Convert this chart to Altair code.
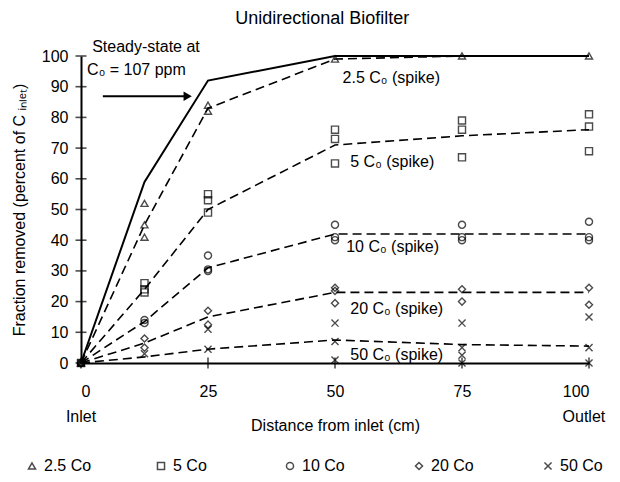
import altair as alt
import pandas as pd

FONT = "Liberation Sans"

dist = [0, 12.5, 25, 50, 75, 100]
series = ["2.5 Co", "5 Co", "10 Co", "20 Co", "50 Co"]
shapes = ["triangle-up", "square", "circle", "diamond", "M-1,-1L1,1M-1,1L1,-1"]

# measured points
tri_x = [0, 12.5, 12.5, 12.5, 25, 25, 50, 75, 100]
tri_y = [0, 52, 45, 41, 84, 82, 99, 100, 100]
sq_x = [0, 12.5, 12.5, 12.5, 25, 25, 25, 50, 50, 50, 75, 75, 75, 100, 100, 100]
sq_y = [0, 26, 24, 23, 55, 53, 49, 76, 73, 65, 79, 76, 67, 81, 77, 69]
ci_x = [0, 12.5, 12.5, 25, 25, 25, 50, 50, 50, 75, 75, 75, 100, 100, 100]
ci_y = [0, 14, 13, 35, 30.5, 30, 45, 41, 40, 45, 41, 40, 46, 41, 40]
di_x = [0, 12.5, 12.5, 25, 25, 50, 50, 50, 75, 75, 100, 100]
di_y = [0, 8, 5, 17, 12.5, 24.5, 23.5, 19.5, 24, 20, 24.5, 19]
xx_x = [0, 12.5, 25, 25, 50, 50, 50, 75, 75, 75, 75, 100, 100, 100]
xx_y = [0, 3, 11, 4.5, 13, 7, 1, 13, 5, 2.5, 0, 15, 5, 0]

# mean (dashed) lines and steady-state (solid) line
mean_tri = [0, 45, 83, 99, 100, 100]
mean_sq = [0, 24, 50, 71, 74, 76]
mean_ci = [0, 13.5, 31, 42, 42, 42]
mean_di = [0, 6.5, 15, 23, 23, 23]
mean_xx = [0, 2, 4.5, 7.5, 6, 5.5]
steady = [0, 59, 92, 100, 100, 100]

y_ticks = list(range(0, 101, 10))
x_ticks = [0, 25, 50, 75, 100]
end_labels = ["Inlet", "Outlet"]
end_x = [0, 99]

title_text = ["Unidirectional  Biofilter"]
title_x = [47.5]
title_y = [112]

labels_txt = ["2.5 C\u2080 (spike)", "5 C\u2080 (spike)", "10 C\u2080 (spike)",
              "20 C\u2080 (spike)", "50 C\u2080 (spike)",
              "Steady-state at", "C\u2080 = 107 ppm"]
labels_x = [51.5, 53, 52.2, 53, 53, 2.2, 1.2]
labels_y = [92.7, 65.5, 37.8, 17.7, 2.5, 103, 95.6]

arrow_x = [4.3]
arrow_x2 = [21]
arrow_y = [86.9]

pts = []
for name, xs_, ys_ in zip(series, [tri_x, sq_x, ci_x, di_x, xx_x],
                          [tri_y, sq_y, ci_y, di_y, xx_y]):
    for a, b in zip(xs_, ys_):
        pts.append({"series": name, "x": a, "y": b})
pts = pd.DataFrame(pts)

means = []
for name, ys_ in zip(series, [mean_tri, mean_sq, mean_ci, mean_di, mean_xx]):
    for a, b in zip(dist, ys_):
        means.append({"series": name, "x": a, "y": b})
means = pd.DataFrame(means)

steady_df = pd.DataFrame({"x": dist, "y": steady})
ann = pd.DataFrame({"x": labels_x, "y": labels_y, "t": labels_txt})
ttl = pd.DataFrame({"x": title_x, "y": title_y, "t": title_text})
arrow = pd.DataFrame({"x": arrow_x, "x2": arrow_x2, "y": arrow_y})
head = pd.DataFrame({"x": arrow_x2, "y": arrow_y})
ends = pd.DataFrame({"x": end_x, "t": end_labels})
yt_df = pd.DataFrame({"y": y_ticks, "x": [0] * len(y_ticks)})
xt_df = pd.DataFrame({"x": x_ticks, "y": [0] * len(x_ticks)})

xs = alt.Scale(domain=[0, 100], nice=False, zero=False)
ys = alt.Scale(domain=[0, 100], nice=False, zero=False)

x_axis = alt.Axis(
    values=x_ticks, ticks=False, grid=False, domainColor="black", domainWidth=2,
    labelFont=FONT, labelFontSize=16, labelColor="black", labelPadding=20,
    labelBaseline="top",
    title="Distance from inlet (cm)", titleFont=FONT, titleFontSize=16,
    titleFontWeight="normal", titleColor="black", titleY=54, titleBaseline="top",
)
y_axis = alt.Axis(
    values=y_ticks, ticks=False, grid=False, domainColor="black", domainWidth=2,
    labelFont=FONT, labelFontSize=16, labelColor="black", labelPadding=13,
    title="Fraction removed (percent of C \u1d62\u2099\u2097\u2091\u209c)",
    titleFont=FONT, titleFontSize=16, titleFontWeight="normal", titleColor="black",
    titlePadding=14,
)


def X(field="x"):
    return alt.X(f"{field}:Q", scale=xs, axis=x_axis)


def Y(field="y"):
    return alt.Y(f"{field}:Q", scale=ys, axis=y_axis)


points = alt.Chart(pts).mark_point(filled=False, color="black", strokeWidth=1.4, size=50,
                                   clip=False).encode(
    x=X(), y=Y(),
    shape=alt.Shape("series:N", scale=alt.Scale(domain=series, range=shapes),
                    legend=alt.Legend(orient="none", legendX=-57, legendY=402,
                                      direction="horizontal", columns=5, gridAlign="all",
                                      columnPadding=61, title=None, symbolSize=50,
                                      symbolStrokeWidth=1.5, symbolStrokeColor="black",
                                      labelFont=FONT, labelFontSize=16, labelColor="black",
                                      labelOffset=4)),
)

dashed = alt.Chart(means).mark_line(color="black", strokeWidth=1.6, strokeDash=[9, 5],
                                    clip=False).encode(x=X(), y=Y(), detail="series:N")

solid = alt.Chart(steady_df).mark_line(color="black", strokeWidth=2, clip=False).encode(
    x=X(), y=Y())

ytick = alt.Chart(yt_df).mark_tick(
    orient="horizontal", size=11, thickness=1.6, color="black").encode(x=X(), y=Y())
xtick = alt.Chart(xt_df).mark_tick(
    orient="vertical", size=11, thickness=1.6, color="black").encode(x=X(), y=Y())

texts = alt.Chart(ann).mark_text(align="left", baseline="middle", font=FONT, fontSize=16,
                                 color="black", clip=False).encode(
    x=X(), y=Y(), text="t:N")

title_mark = alt.Chart(ttl).mark_text(align="center", baseline="middle", font=FONT,
                                      fontSize=18, color="black", clip=False).encode(
    x=X(), y=Y(), text="t:N")

end_text = alt.Chart(ends).mark_text(align="center", baseline="top", font=FONT, fontSize=16,
                                     color="black", dy=46).encode(
    x=X(), y=alt.value(307), text="t:N")

arrow_line = alt.Chart(arrow).mark_rule(color="black", strokeWidth=2).encode(
    x=X(), x2="x2:Q", y=Y())
arrow_head = alt.Chart(head).mark_point(shape="triangle-right", filled=True, color="black",
                                        size=90, opacity=1).encode(x=X(), y=Y())

chart = alt.layer(solid, dashed, ytick, xtick, points, texts, title_mark, end_text,
                  arrow_line, arrow_head).properties(
    width=508, height=307,
    autosize=alt.AutoSizeParams(type="none"),
    padding={"left": 73, "top": 48, "right": 22, "bottom": 114},
).configure_view(stroke=None)

chart.save("out.html", embed_options={"renderer": "svg", "actions": False})
